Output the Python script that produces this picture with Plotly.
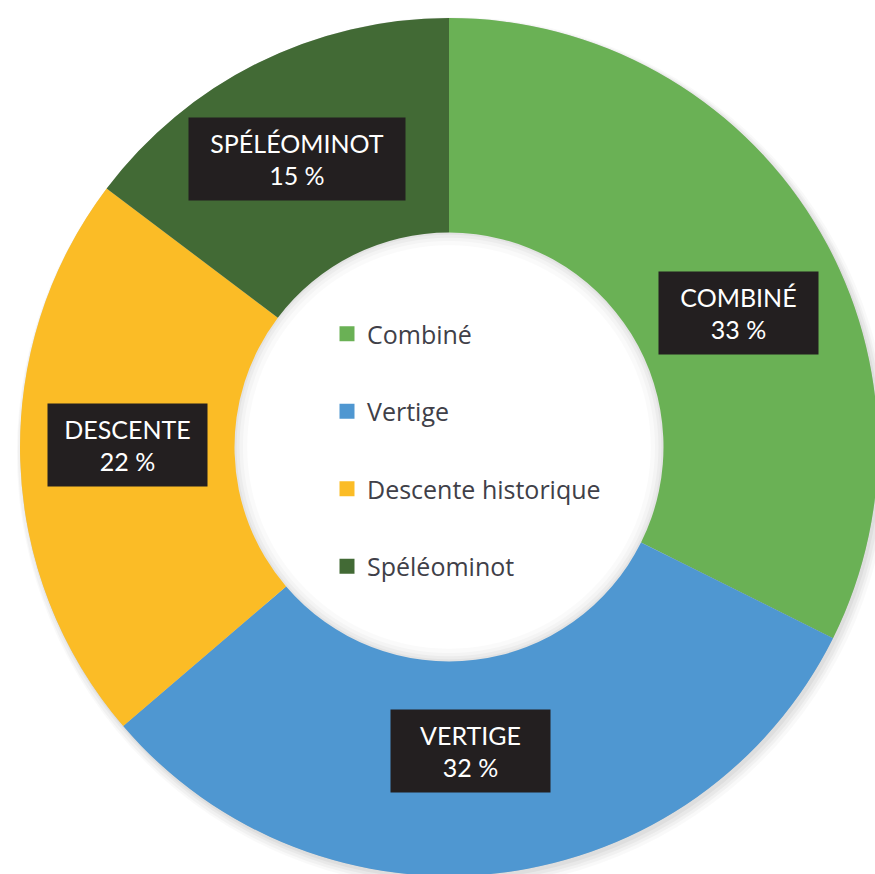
import plotly.graph_objects as go

# data
categories = ["Combiné", "Vertige", "Descente historique", "Spéléominot"]
values = [33, 32, 22, 15]
box_labels = ["COMBINÉ", "VERTIGE", "DESCENTE", "SPÉLÉOMINOT"]
colors = ["#6AB155", "#4F97D1", "#FBBC26", "#426A35"]

# figure a touch bigger than the window so the ring can run off the edges
W, H = 896, 896
cx, cy, r = 449, 447, 429

def dom(x0, y0, rad):
    return dict(x=[(x0 - rad) / W, (x0 + rad) / W],
                y=[(H - y0 - rad) / H, (H - y0 + rad) / H])

def shade(domain, hole, alpha):
    return go.Pie(
        values=[1], hole=hole, sort=False, showlegend=False, textinfo="none",
        hoverinfo="skip",
        marker=dict(colors=[f"rgba(0,0,0,{alpha})"], line=dict(width=0)),
        domain=domain,
    )

fig = go.Figure()

# soft drop shadow outside the ring (lower right)
for dx, dy, dr, a in [(4, 6, 7, 0.025), (3, 5, 5, 0.03), (3, 4, 3, 0.035), (2, 3, 1, 0.04)]:
    fig.add_trace(shade(dom(cx + dx, cy + dy, r + dr), 0.56, a))

# soft glow just inside the hole
for h, a in [(0.47, 0.02), (0.48, 0.025), (0.488, 0.03), (0.495, 0.035)]:
    fig.add_trace(shade(dom(cx, cy, r), h, a))

fig.add_trace(go.Pie(
    labels=categories,
    values=values,
    hole=0.5,
    sort=False,
    direction="clockwise",
    rotation=0,
    textinfo="none",
    showlegend=False,
    marker=dict(colors=colors, line=dict(width=0)),
    domain=dom(cx, cy, r),
))

# legend entries (one group each so they can be spaced apart)
for name, col in zip(categories, colors):
    fig.add_trace(go.Scatter(
        x=[None], y=[None], mode="markers", name=name, legendgroup=name,
        marker=dict(symbol="square", size=15, color=col),
    ))

# label boxes: centre (px), width
box_pos = [(738, 313, 157), (470, 751, 157), (127, 445, 157), (297, 159, 214)]
for lab, v, (bx, by, bw) in zip(box_labels, values, box_pos):
    fig.add_annotation(
        x=bx / W, y=1 - by / H, xref="paper", yref="paper",
        xanchor="center", yanchor="middle",
        text=f"{lab}<br>{v} %", showarrow=False,
        width=bw, height=80, align="center", valign="middle",
        bgcolor="#231F20",
        font=dict(family="Lato", size=25, color="white"),
    )

fig.update_layout(
    width=W, height=H,
    margin=dict(l=0, r=0, t=0, b=0),
    paper_bgcolor="white", plot_bgcolor="white",
    xaxis=dict(visible=False), yaxis=dict(visible=False),
    legend=dict(
        x=327 / W, y=1 - 311 / H, xanchor="left", yanchor="top",
        bgcolor="rgba(0,0,0,0)", tracegroupgap=42,
        font=dict(family="Open Sans", size=25, color="#404048"),
        itemclick=False,
    ),
)

fig.write_html(
    "out.html",
    config={"displayModeBar": False},
    post_script="document.body.style.margin='0';document.body.style.overflow='hidden';",
)
